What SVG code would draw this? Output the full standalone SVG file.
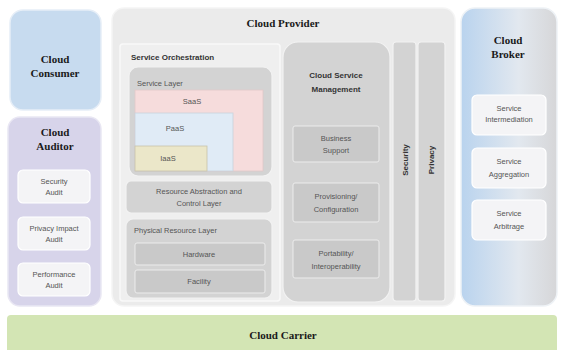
<svg xmlns="http://www.w3.org/2000/svg" width="563" height="350" viewBox="0 0 563 350">
<style>
.title{font-family:"Liberation Serif",serif;font-weight:bold;font-size:11px;fill:#1a1a1a;text-anchor:middle}
.sm{font-family:"Liberation Sans",sans-serif;font-size:7.5px;fill:#555;text-anchor:middle}
.smb{font-family:"Liberation Sans",sans-serif;font-size:8px;font-weight:bold;fill:#333;text-anchor:middle}
.sub{fill:#f4f4f6;stroke:#ffffff;stroke-width:1.2}
.gbox{fill:#d3d3d3;stroke:#f2f2f2;stroke-width:1.2}
.gin{fill:#c9c9c9;stroke:#ececec;stroke-width:1}
</style>
<defs>
<linearGradient id="broker" x1="0" y1="0" x2="1" y2="0">
<stop offset="0" stop-color="#b9d3ee"/>
<stop offset="0.6" stop-color="#e2e8ef"/>
<stop offset="1" stop-color="#d6d6d8"/>
</linearGradient>
</defs>
<rect width="563" height="350" fill="#ffffff"/>
<g id="cloud-carrier">
<rect x="7" y="315" width="550" height="45" rx="4" fill="#d3e5b4"/>
<text class="title" x="283" y="339">Cloud Carrier</text>
</g>
<g id="cloud-consumer">
<rect x="10" y="10" width="91" height="100" rx="13" fill="#c7dbef" stroke="#e6eef7" stroke-width="1.5"/>
<text class="title" x="55" y="63">Cloud</text>
<text class="title" x="55" y="77">Consumer</text>
</g>
<g id="cloud-auditor">
<rect x="8" y="117" width="93" height="189" rx="12" fill="#d7d4ea" stroke="#e9e7f3" stroke-width="1.5"/>
<text class="title" x="55" y="136">Cloud</text>
<text class="title" x="55" y="150">Auditor</text>
<g id="security-audit">
<rect class="sub" x="18" y="170" width="72" height="33" rx="5"/>
<text class="sm" x="54" y="184">Security</text>
<text class="sm" x="54" y="195">Audit</text>
</g>
<g id="privacy-impact-audit">
<rect class="sub" x="18" y="217" width="72" height="33" rx="5"/>
<text class="sm" x="54" y="231">Privacy Impact</text>
<text class="sm" x="54" y="242">Audit</text>
</g>
<g id="performance-audit">
<rect class="sub" x="18" y="263" width="72" height="33" rx="5"/>
<text class="sm" x="54" y="277">Performance</text>
<text class="sm" x="54" y="288">Audit</text>
</g>
</g>
<g id="cloud-provider">
<rect x="112" y="8" width="343" height="298" rx="12" fill="#ebebeb" stroke="#f5f5f5" stroke-width="1.5"/>
<text class="title" x="283" y="27">Cloud Provider</text>
</g>
<g id="service-orchestration">
<rect x="120" y="44" width="160" height="257" rx="3" fill="#efefef" stroke="#f9f9f9" stroke-width="1.5"/>
<text class="smb" x="131" y="60" style="text-anchor:start">Service Orchestration</text>
</g>
<g id="service-layer">
<rect class="gbox" x="129" y="67" width="143" height="109" rx="9"/>
<text class="sm" x="137" y="86" style="text-anchor:start">Service Layer</text>
<g id="saas">
<rect x="135" y="90" width="128" height="81" fill="#f6dcdc" stroke="#e2c9c9" stroke-width="0.8"/>
<text class="sm" x="192" y="104">SaaS</text>
</g>
<g id="paas">
<rect x="135" y="113" width="98" height="58" fill="#e0ebf6" stroke="#c9d3dd" stroke-width="0.8"/>
<text class="sm" x="175" y="131">PaaS</text>
</g>
<g id="iaas">
<rect x="135" y="146" width="72" height="25" fill="#ebe7c9" stroke="#c8c4ab" stroke-width="0.8"/>
<text class="sm" x="168" y="161">IaaS</text>
</g>
</g>
<g id="resource-abstraction">
<rect class="gbox" x="126" y="181" width="146" height="32" rx="5"/>
<text class="sm" x="199" y="194">Resource Abstraction and</text>
<text class="sm" x="199" y="206">Control Layer</text>
</g>
<g id="physical-resource-layer">
<rect class="gbox" x="126" y="219" width="146" height="79" rx="7"/>
<text class="sm" x="134" y="233" style="text-anchor:start">Physical Resource Layer</text>
<g id="hardware">
<rect class="gin" x="135" y="243" width="130" height="22" rx="2"/>
<text class="sm" x="199" y="257">Hardware</text>
</g>
<g id="facility">
<rect class="gin" x="135" y="270" width="130" height="23" rx="2"/>
<text class="sm" x="199" y="284">Facility</text>
</g>
</g>
<g id="cloud-service-management">
<rect class="gbox" x="283" y="42" width="107" height="260" rx="15"/>
<text class="smb" x="336" y="78">Cloud Service</text>
<text class="smb" x="336" y="92">Management</text>
<g id="business-support">
<rect class="gin" x="293" y="126" width="86" height="36" rx="2"/>
<text class="sm" x="336" y="141">Business</text>
<text class="sm" x="336" y="153">Support</text>
</g>
<g id="provisioning">
<rect class="gin" x="293" y="183" width="86" height="39" rx="2"/>
<text class="sm" x="336" y="199">Provisioning/</text>
<text class="sm" x="336" y="212">Configuration</text>
</g>
<g id="portability">
<rect class="gin" x="293" y="240" width="86" height="38" rx="2"/>
<text class="sm" x="336" y="256">Portability/</text>
<text class="sm" x="336" y="269">Interoperability</text>
</g>
</g>
<g id="security">
<rect class="gbox" x="393" y="42" width="23" height="259" rx="3"/>
<text class="smb" transform="translate(408,160) rotate(-90)">Security</text>
</g>
<g id="privacy">
<rect class="gbox" x="418" y="42" width="27" height="259" rx="3"/>
<text class="smb" transform="translate(434,160) rotate(-90)">Privacy</text>
</g>
<g id="cloud-broker">
<rect x="461" y="8" width="96" height="298" rx="14" fill="url(#broker)" stroke="#eef2f6" stroke-width="1.5"/>
<text class="title" x="508" y="44">Cloud</text>
<text class="title" x="508" y="58">Broker</text>
<g id="service-intermediation">
<rect class="sub" x="472" y="95" width="74" height="40" rx="5"/>
<text class="sm" x="509" y="111">Service</text>
<text class="sm" x="509" y="122">Intermediation</text>
</g>
<g id="service-aggregation">
<rect class="sub" x="472" y="148" width="74" height="40" rx="5"/>
<text class="sm" x="509" y="164">Service</text>
<text class="sm" x="509" y="177">Aggregation</text>
</g>
<g id="service-arbitrage">
<rect class="sub" x="472" y="200" width="74" height="40" rx="5"/>
<text class="sm" x="509" y="216">Service</text>
<text class="sm" x="509" y="229">Arbitrage</text>
</g>
</g>
<g id="connectors"></g>
</svg>
